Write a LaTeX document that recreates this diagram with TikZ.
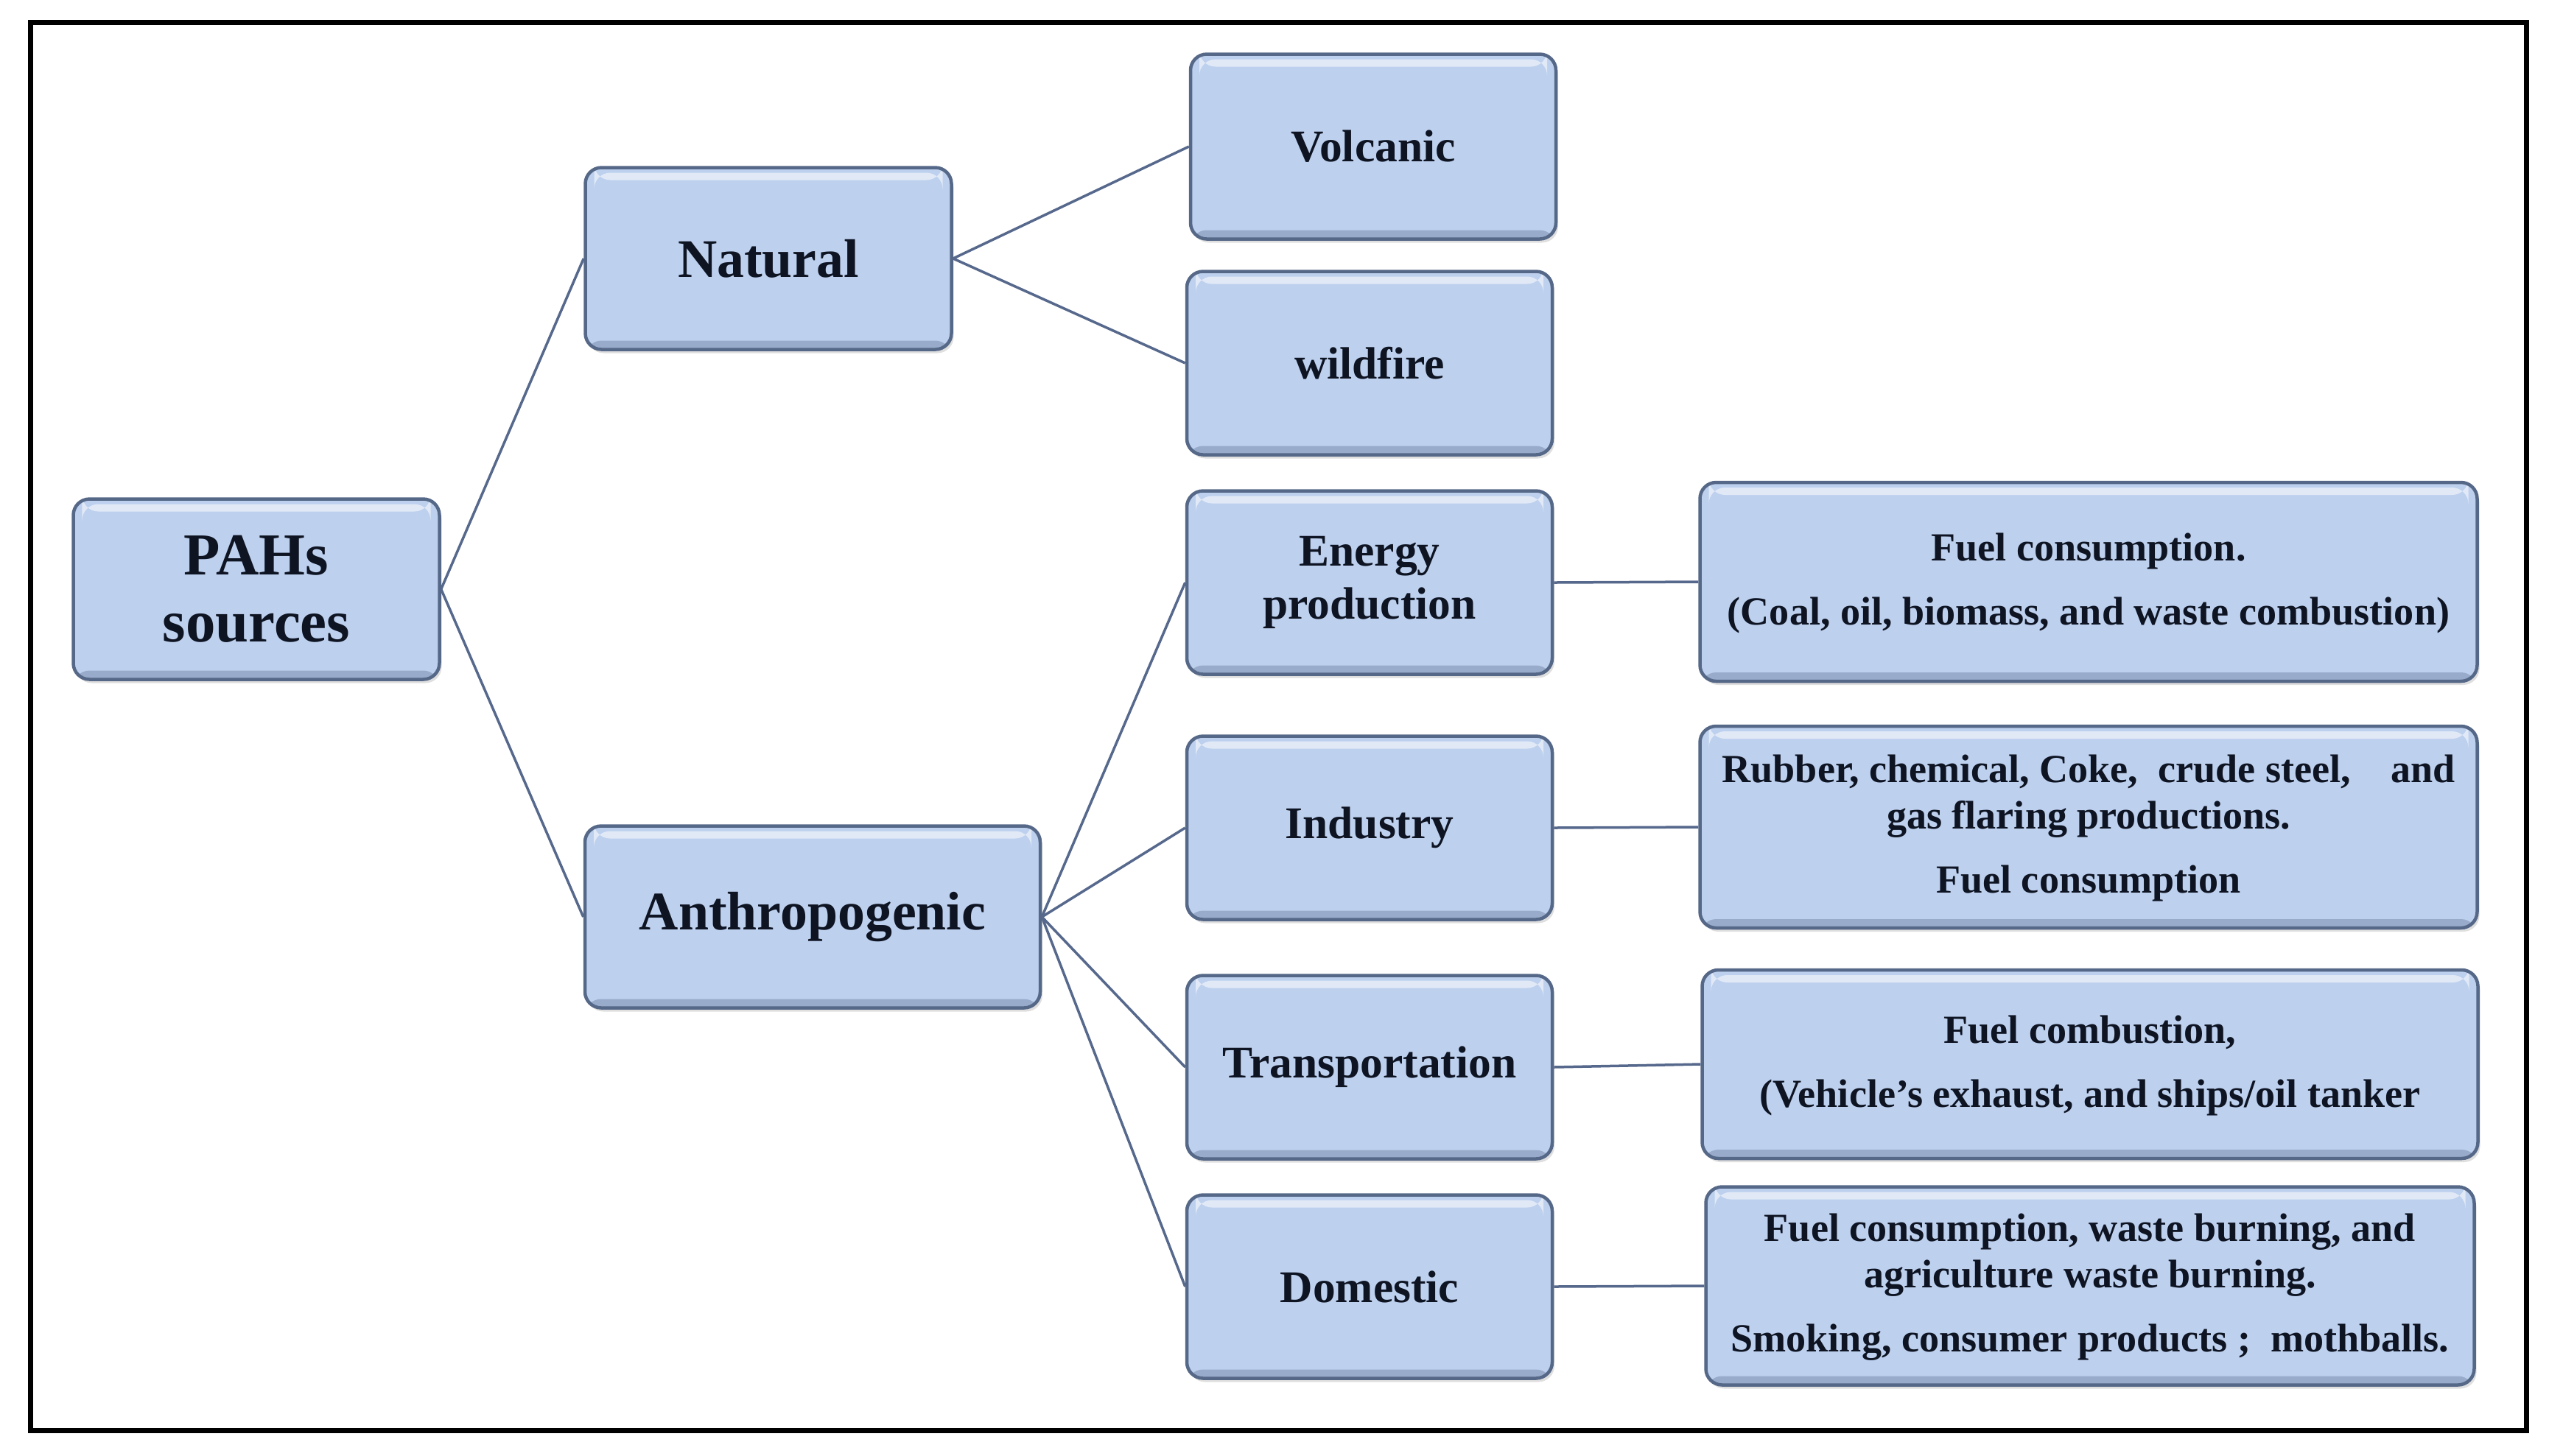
\documentclass[tikz,border=0pt]{standalone}
\usepackage{fontspec}
\setmainfont{Liberation Serif}
\usetikzlibrary{shadows}
\definecolor{boxfill}{RGB}{189,208,238}
\definecolor{boxedge}{RGB}{86,104,136}
\definecolor{linkcol}{RGB}{86,104,140}
\definecolor{inkcol}{RGB}{14,20,34}
\tikzset{
  srcbox/.style={draw=boxedge, line width=0.045cm, fill=boxfill, rounded corners=0.22cm,
    align=center, text=inkcol, inner sep=0pt,
    drop shadow={opacity=0.25, shadow xshift=0.03cm, shadow yshift=-0.05cm},
    path picture={
      \fill[white,opacity=.55] ([shift={(0.12,-0.07)}]path picture bounding box.north west)
        rectangle ([shift={(-0.12,-0.17)}]path picture bounding box.north east);
      \fill[boxedge,opacity=.35] ([yshift=0.12cm]path picture bounding box.south west)
        rectangle (path picture bounding box.south east);}},
  rootbox/.style={srcbox, minimum width=4.97cm, minimum height=2.45cm,
    font=\fontsize{23}{26}\selectfont\bfseries},
  kindbox/.style={srcbox, minimum height=2.47cm,
    font=\fontsize{21}{24}\selectfont\bfseries},
  sectbox/.style={srcbox, minimum width=4.96cm, minimum height=2.49cm,
    font=\fontsize{17.5}{20.7}\selectfont\bfseries},
  notebox/.style={srcbox, minimum width=10.55cm, minimum height=2.65cm,
    font=\fontsize{15.4}{17.8}\selectfont\bfseries, text depth=0.08cm},
  link/.style={draw=linkcol, line width=0.035cm}
}
\begin{document}
\begin{tikzpicture}
\useasboundingbox (0,0) rectangle (34.60,-19.76);
\draw[line width=0.07cm] (0.41,-0.30) rectangle (34.29,-19.42);

\node[rootbox] (pahs) at (3.48,-8.00) {PAHs\\sources};
\node[kindbox, minimum width=4.97cm] (natural) at (10.43,-3.51) {Natural};
\node[kindbox, minimum width=6.18cm] (anthro) at (11.03,-12.45) {Anthropogenic};

\node[sectbox, minimum height=2.51cm] (volcanic) at (18.64,-1.99) {Volcanic};
\node[sectbox] (wildfire) at (18.59,-4.93) {wildfire};
\node[sectbox] (energy) at (18.59,-7.91) {Energy\\production};
\node[sectbox] (industry) at (18.59,-11.24) {Industry};
\node[sectbox] (transport) at (18.59,-14.49) {Transportation};
\node[sectbox] (domestic) at (18.59,-17.47) {Domestic};

\node[notebox, minimum height=2.70cm] (energynote) at (28.35,-7.90)
  {Fuel consumption.\\[7pt](Coal, oil, biomass, and waste combustion)};
\node[notebox, minimum height=2.74cm] (industrynote) at (28.35,-11.23)
  {Rubber, chemical, Coke,\ \ crude steel,\ \ \ \ and\\gas flaring productions.\\[7pt]Fuel consumption};
\node[notebox, minimum width=10.53cm, minimum height=2.56cm] (transportnote) at (28.37,-14.45)
  {Fuel combustion,\\[7pt](Vehicle’s exhaust, and ships/oil tanker};
\node[notebox, minimum width=10.43cm, minimum height=2.69cm] (domesticnote) at (28.37,-17.46)
  {Fuel consumption, waste burning, and\\agriculture waste burning.\\[7pt]Smoking, consumer products ;\ \ mothballs.};

\draw[link] (pahs.east) -- (natural.west);
\draw[link] (pahs.east) -- (anthro.west);
\draw[link] (natural.east) -- (volcanic.west);
\draw[link] (natural.east) -- (wildfire.west);
\draw[link] (anthro.east) -- (energy.west);
\draw[link] (anthro.east) -- (industry.west);
\draw[link] (anthro.east) -- (transport.west);
\draw[link] (anthro.east) -- (domestic.west);
\draw[link] (energy.east) -- (energynote.west);
\draw[link] (industry.east) -- (industrynote.west);
\draw[link] (transport.east) -- (transportnote.west);
\draw[link] (domestic.east) -- (domesticnote.west);
\end{tikzpicture}
\end{document}
